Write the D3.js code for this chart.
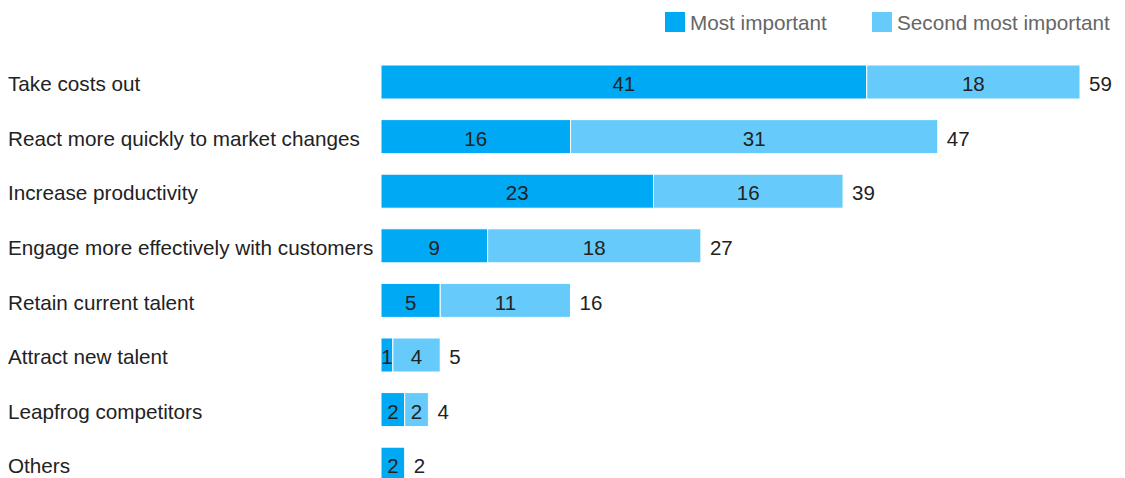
<!DOCTYPE html>
<html>
<head>
<meta charset="utf-8">
<script src="https://cdn.jsdelivr.net/npm/d3@7"></script>
<style>
  body { margin: 0; background: #fff; }
  svg { font-family: "Liberation Sans", Arial, sans-serif; }
</style>
</head>
<body>
<div id="chart"></div>
<script>
var categories = ["Take costs out", "React more quickly to market changes", "Increase productivity",
  "Engage more effectively with customers", "Retain current talent", "Attract new talent",
  "Leapfrog competitors", "Others"];
var mostImportant = [41, 16, 23, 9, 5, 1, 2, 2];
var secondImportant = [18, 31, 16, 18, 11, 4, 2, 0];
var seriesNames = ["Most important", "Second most important"];
var colors = ["#00a9f4", "#66cbfa"];

var width = 1125, height = 478;
var svg = d3.select("#chart").append("svg").attr("width", width).attr("height", height);

var x = d3.scaleLinear().domain([0, 59]).range([381, 1080]);
var y = d3.scaleBand().domain(categories).range([65, 481.2]).paddingInner(0.377).paddingOuter(0);

var rows = categories.map(function(c, i) {
  return { cat: c, a: mostImportant[i], b: secondImportant[i], total: mostImportant[i] + secondImportant[i] };
});

// category labels
svg.selectAll(".cat").data(rows).enter().append("text")
  .attr("x", 8).attr("y", function(d) { return y(d.cat) + y.bandwidth() / 2 + 2; })
  .attr("dy", "0.35em").attr("font-size", 20.7).attr("fill", "#222")
  .text(function(d) { return d.cat; });

// stacked segments
var segs = [];
rows.forEach(function(d) {
  segs.push({ cat: d.cat, x0: 0, x1: d.a, v: d.a, k: 0 });
  if (d.b > 0) segs.push({ cat: d.cat, x0: d.a, x1: d.a + d.b, v: d.b, k: 1 });
});

svg.selectAll(".seg").data(segs).enter().append("rect")
  .attr("x", function(d) { return x(d.x0); })
  .attr("y", function(d) { return y(d.cat); })
  .attr("width", function(d) { return x(d.x1) - x(d.x0); })
  .attr("height", y.bandwidth())
  .attr("fill", function(d) { return colors[d.k]; })
  .attr("stroke", "#fff").attr("stroke-width", 1);

svg.selectAll(".segLabel").data(segs).enter().append("text")
  .attr("x", function(d) { return (x(d.x0) + x(d.x1)) / 2; })
  .attr("y", function(d) { return y(d.cat) + y.bandwidth() / 2 + 2; })
  .attr("dy", "0.35em").attr("text-anchor", "middle")
  .attr("font-size", 20.5).attr("fill", "#222")
  .text(function(d) { return d.v; });

// totals
svg.selectAll(".total").data(rows).enter().append("text")
  .attr("x", function(d) { return x(d.total) + 9; })
  .attr("y", function(d) { return y(d.cat) + y.bandwidth() / 2 + 2; })
  .attr("dy", "0.35em").attr("font-size", 20.5).attr("fill", "#222")
  .text(function(d) { return d.total; });

// legend
var legendX = [665, 872];
var legend = svg.selectAll(".legend").data(seriesNames).enter().append("g")
  .attr("transform", function(d, i) { return "translate(" + legendX[i] + ",12)"; });
legend.append("rect").attr("width", 20).attr("height", 20)
  .attr("fill", function(d, i) { return colors[i]; });
legend.append("text").attr("x", 25).attr("y", 11).attr("dy", "0.35em")
  .attr("font-size", 20.7).attr("fill", "#666")
  .text(function(d) { return d; });
</script>
</body>
</html>
